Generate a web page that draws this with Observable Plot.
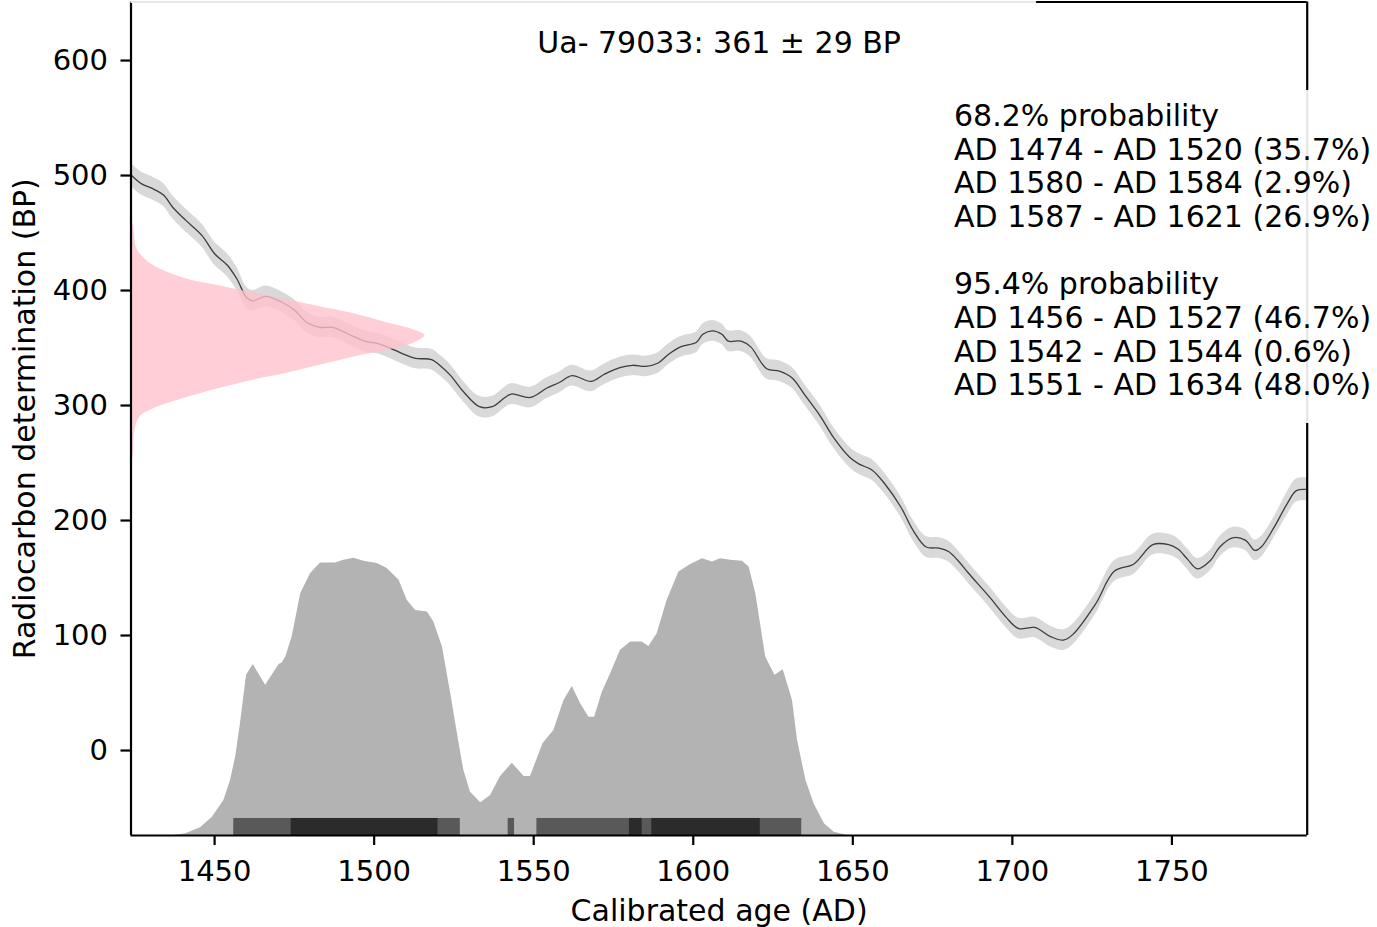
<!DOCTYPE html>
<html>
<head>
<meta charset="utf-8">
<script src="https://cdn.jsdelivr.net/npm/d3@7"></script>
<script src="https://cdn.jsdelivr.net/npm/@observablehq/plot@0.6"></script>
<style>
  html, body { margin: 0; padding: 0; background: #fff; }
  #chart svg { display: block; }
</style>
</head>
<body>
<div id="chart"></div>
<script>
// ---------- data ----------
const labId = "Ua- 79033";
const measMean = 361;
const measError = 29;

const xTicks = [1450, 1500, 1550, 1600, 1650, 1700, 1750];
const yTicks = [0, 100, 200, 300, 400, 500, 600];

// calibration curve (IntCal) : calendar year, BP mean, 1-sigma
const curveYear = [1424,1427,1431,1434,1437,1441,1446,1450,1454,1457,1460,1462,1466,1471,1475,1479,1483,1487,1492,1497,1501,1505,1509,1513,1518,1521,1524,1528,1533,1537,1541,1543,1549,1554,1558,1562,1568,1572,1577,1581,1585,1589,1592,1596,1601,1603,1606,1609,1611,1615,1618,1623,1627,1631,1635,1640,1644,1649,1652,1656,1660,1665,1669,1673,1677,1680,1683,1686,1693,1698,1702,1707,1712,1716,1719,1726,1732,1738,1744,1749,1752,1755,1758,1762,1765,1769,1773,1776,1778,1782,1786,1789,1792.4];
const curveBP = [500,493,488,483,472,461,448,432,422,410,394,391,395,390,383,372,368,368,362,356,354,350,345,341,340,334,326,312,299,299,307,310,307,315,320,326,321,327,333,335,334,337,344,351,355,362,365,362,356,356,351,332,330,324,309,290,272,255,249,244,232,212,191,177,176,173,165,155,133,116,106,107,99,96,101,127,156,162,179,179,175,166,158,165,177,185,183,174,177,194,214,226,227];
const curveSigma = [10,10,10,10,10,10,10,10,10,10,9,9,9,9,9,9,9,9,9,9,9,9,9,9,9,9,9,9,9,9,9,9,9,9,9,9,9,9,9,9,9,9,9,9,9,9,9,9,9,9,9,9,9,9,9,9,9,9,9,9,9,9,9,9,9,9,9,9,9,9,9,9,9,9,9,9,9,9,9,9,9,9,9,9,9,9,9,9,9,9,10,10,10];

// measured radiocarbon age distribution (drawn sideways from the left edge)
const measBP    = [461,456,448,438,432,422,410,404,398,392,386,380,372,366,361,354,348,342,335,328,322,315,307,297,290,278,266,256,249];
const measWidth = [0,0.8,1.1,1.6,2.8,6.9,17.5,27.9,38.2,48.9,59.2,69.6,80.2,88.4,92.1,88.4,80.2,69.6,59.2,48.9,38.2,27.9,17.5,6.9,2.8,1.2,0.9,0.7,0];

// calibrated probability (relative)
const postYear = [1437,1441,1445.6,1449.3,1452.9,1455,1456.6,1458.1,1460,1462.1,1466,1470.2,1471.2,1472.3,1474.3,1477,1480.1,1483.2,1487.9,1490.5,1493.7,1496.8,1501,1504.1,1507.8,1510.4,1513,1516.7,1518.7,1521.4,1524,1526.1,1528.1,1530.2,1533.4,1536.5,1539.6,1543.3,1547,1549,1552.9,1556.3,1559.5,1562.1,1564.7,1567.3,1569.1,1571.5,1574.1,1577.2,1580.4,1584,1586.1,1588.7,1591.8,1595.5,1599.2,1602.9,1606,1608.6,1611.7,1615.4,1617.5,1619.6,1622.7,1625.6,1628.2,1631.1,1632.7,1635.3,1637.9,1641.1,1644.2,1648.4];
const postProb = [0,0.006,0.028,0.066,0.126,0.199,0.283,0.403,0.578,0.617,0.542,0.617,0.622,0.644,0.716,0.873,0.945,0.983,0.983,0.993,1,0.99,0.981,0.963,0.921,0.848,0.812,0.806,0.77,0.68,0.512,0.367,0.235,0.156,0.118,0.144,0.213,0.261,0.213,0.213,0.331,0.379,0.487,0.538,0.475,0.427,0.427,0.517,0.584,0.668,0.698,0.698,0.682,0.728,0.848,0.951,0.978,0.999,0.987,0.999,0.993,0.99,0.969,0.873,0.644,0.578,0.598,0.487,0.343,0.199,0.114,0.042,0.012,0];

// highest-density ranges
const hpd68Start = [1474, 1580, 1587];
const hpd68End   = [1520, 1584, 1621];
const hpd68Pct   = ["35.7", "2.9", "26.9"];
const hpd95Start = [1456, 1542, 1551];
const hpd95End   = [1527, 1544, 1634];
const hpd95Pct   = ["46.7", "0.6", "48.0"];

// ---------- build tables ----------
const curve = curveYear.map((year, i) => ({year, bp: curveBP[i], s: curveSigma[i]}));
const meas = measBP.map((bp, i) => ({bp, w: measWidth[i]}));
const post = postYear.map((year, i) => ({year, p: postProb[i]}));
const hpd68 = hpd68Start.map((s, i) => ({start: s, end: hpd68End[i]}));
const hpd95 = hpd95Start.map((s, i) => ({start: s, end: hpd95End[i]}));

const title = `${labId}: ${measMean} ± ${measError} BP`;
const rangeLines = (label, st, en, pc) =>
  [label, ...st.map((s, i) => `AD ${s} - AD ${en[i]} (${pc[i]}%)`)];
const block = [
  ...rangeLines("68.2% probability", hpd68Start, hpd68End, hpd68Pct),
  "",
  ...rangeLines("95.4% probability", hpd95Start, hpd95End, hpd95Pct)
].join("\n");

// ---------- layout / style ----------
const xDomain = [1423.8, 1792.4];
const yDomain = [-73.9, 650.9];
const postScale = 241;   // BP-axis units for relative probability 1
const barH = 14.8;       // BP-axis units for range bars
const FS = 30;           // label / annotation font size
const TFS = 29;          // tick label font size
const LW = 2.2;
const frameGrey = "#e6e6e6";
const topSplit = 1707.6;        // where the top spine stops being covered
const rightCover = [284.3, 573.9]; // part of right spine covered by text box

const y0 = yDomain[0];

const plot = Plot.plot({
  width: 1377,
  height: 927,
  marginLeft: 130.5,
  marginRight: 70.3,
  marginTop: 1.5,
  marginBottom: 92,
  x: {domain: xDomain},
  y: {domain: yDomain},
  style: {fontFamily: "'DejaVu Sans', sans-serif", fontSize: FS + "px", background: "white", color: "black", overflow: "visible"},
  marks: [
    Plot.areaY(curve, {x: "year", y1: d => d.bp - d.s, y2: d => d.bp + d.s, fill: "#d9d9d9", curve: "catmull-rom", clip: true}),
    Plot.lineY(curve, {x: "year", y: "bp", stroke: "#3d3d3d", strokeWidth: 1.3, curve: "catmull-rom", clip: true}),
    Plot.areaX(meas, {y: "bp", x1: () => xDomain[0], x2: d => xDomain[0] + d.w, fill: "#ffc0cb", fillOpacity: 0.78, curve: "catmull-rom", clip: true}),
    Plot.areaY(post, {x: "year", y1: () => y0, y2: d => y0 + d.p * postScale, fill: "#b3b3b3", clip: true}),
    Plot.rect(hpd95, {x1: "start", x2: "end", y1: () => y0, y2: () => y0 + barH, fill: "#595959"}),
    Plot.rect(hpd68, {x1: "start", x2: "end", y1: () => y0, y2: () => y0 + barH, fill: "#2b2b2b"}),
    // spines
    Plot.ruleY([{y: yDomain[0], a: xDomain[0], b: xDomain[1]}], {y: "y", x1: "a", x2: "b", stroke: "black", strokeWidth: LW}),
    Plot.ruleX([{x: xDomain[0], a: yDomain[0], b: yDomain[1]}], {x: "x", y1: "a", y2: "b", stroke: "black", strokeWidth: LW}),
    Plot.ruleY([{y: yDomain[1], a: xDomain[0], b: topSplit}], {y: "y", x1: "a", x2: "b", stroke: frameGrey, strokeWidth: LW}),
    Plot.ruleY([{y: yDomain[1], a: topSplit, b: xDomain[1]}], {y: "y", x1: "a", x2: "b", stroke: "black", strokeWidth: LW}),
    Plot.ruleX([{x: xDomain[1], a: rightCover[1], b: yDomain[1]}], {x: "x", y1: "a", y2: "b", stroke: "black", strokeWidth: LW}),
    Plot.ruleX([{x: xDomain[1], a: rightCover[0], b: rightCover[1]}], {x: "x", y1: "a", y2: "b", stroke: frameGrey, strokeWidth: LW}),
    Plot.ruleX([{x: xDomain[1], a: yDomain[0], b: rightCover[0]}], {x: "x", y1: "a", y2: "b", stroke: "black", strokeWidth: LW}),
    // axes
    Plot.axisX({ticks: xTicks, tickSize: 10, tickPadding: 15, strokeWidth: LW, fontSize: TFS, label: null, tickFormat: d => `${d}`}),
    Plot.axisY({ticks: yTicks, tickSize: 10, tickPadding: 13, strokeWidth: LW, fontSize: TFS, label: null, tickFormat: d => `${d}`}),
    // texts
    Plot.text([title], {text: d => d, frameAnchor: "top", dy: 51, lineAnchor: "bottom", fontSize: FS}),
    Plot.text([block], {text: d => d, frameAnchor: "top-left", textAnchor: "start", lineAnchor: "top", dx: 823, dy: 100, lineHeight: 1.123, fontSize: FS}),
    Plot.text(["Calibrated age (AD)"], {text: d => d, frameAnchor: "bottom", dy: 85, lineAnchor: "bottom", fontSize: FS}),
    Plot.text(["Radiocarbon determination (BP)"], {text: d => d, frameAnchor: "left", textAnchor: "middle", dx: -96.5, rotate: -90, lineAnchor: "bottom", fontSize: FS})
  ]
});
document.getElementById("chart").appendChild(plot);
</script>
</body>
</html>
